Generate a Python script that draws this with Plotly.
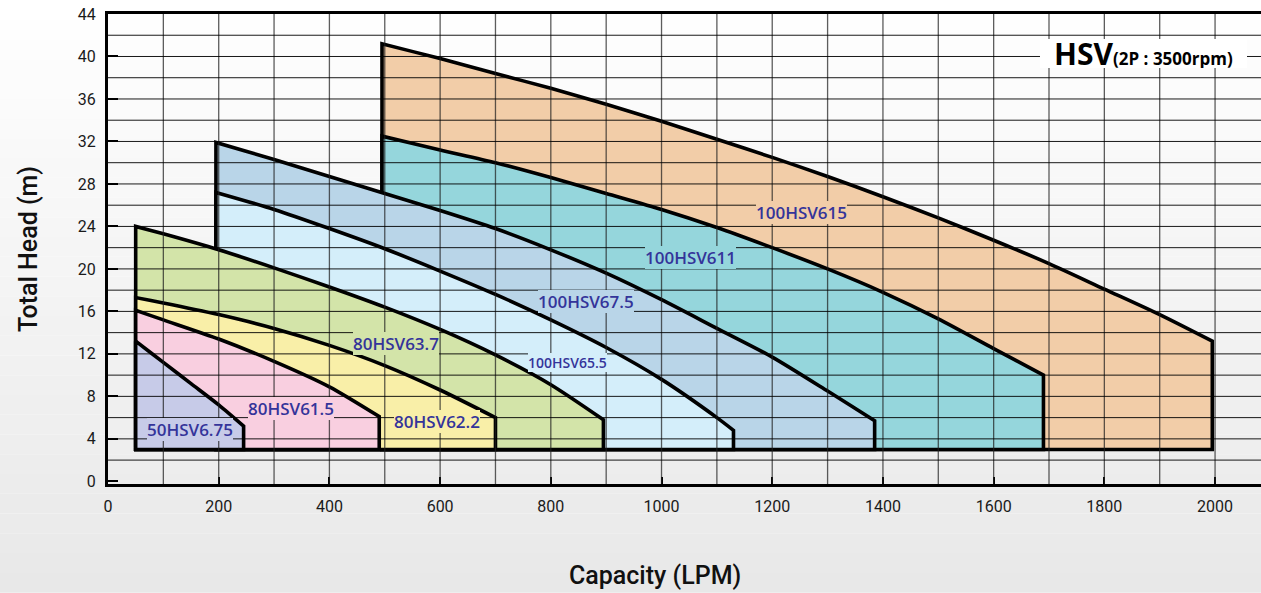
import numpy as np
import plotly.graph_objects as go

# ---------------- data ----------------
base_head = 3.0

models = ["100HSV615", "100HSV611", "100HSV67.5", "100HSV65.5",
          "80HSV63.7", "80HSV62.2", "80HSV61.5", "50HSV6.75"]

q_615 = [495, 600, 700, 800, 900, 1000, 1100, 1200, 1300, 1400, 1500, 1600, 1700, 1800, 1900, 1995]
h_615 = [41.2, 39.8, 38.4, 37.0, 35.5, 33.9, 32.2, 30.5, 28.7, 26.8, 24.8, 22.7, 20.5, 18.1, 15.7, 13.2]

q_611 = [495, 600, 700, 800, 900, 1000, 1100, 1200, 1300, 1400, 1500, 1600, 1690]
h_611 = [32.5, 31.2, 30.0, 28.6, 27.1, 25.6, 23.9, 22.0, 20.0, 17.8, 15.3, 12.5, 10.0]

q_675 = [195, 300, 400, 500, 600, 700, 800, 900, 1000, 1100, 1200, 1300, 1385]
h_675 = [31.9, 30.3, 28.7, 27.1, 25.5, 23.8, 21.8, 19.6, 17.1, 14.4, 11.7, 8.5, 5.7]

q_655 = [195, 300, 400, 500, 600, 700, 800, 900, 1000, 1100, 1130]
h_655 = [27.2, 25.6, 23.8, 21.9, 19.8, 17.6, 15.2, 12.6, 9.6, 6.0, 4.8]

q_637 = [50, 100, 200, 300, 400, 500, 600, 700, 800, 895]
h_637 = [24.0, 23.3, 21.8, 20.1, 18.3, 16.4, 14.3, 11.9, 9.1, 5.8]

q_622 = [50, 100, 200, 300, 400, 500, 600, 700]
h_622 = [17.3, 16.8, 15.7, 14.4, 12.8, 10.9, 8.6, 6.0]

q_615s = [50, 100, 200, 300, 400, 490]
h_615s = [16.1, 15.2, 13.4, 11.3, 8.9, 6.1]

q_6075 = [50, 100, 150, 200, 245]
h_6075 = [13.2, 11.2, 9.2, 7.2, 5.2]

curves_q = [q_615, q_611, q_675, q_655, q_637, q_622, q_615s, q_6075]
curves_h = [h_615, h_611, h_675, h_655, h_637, h_622, h_615s, h_6075]

x_ticks = [0, 200, 400, 600, 800, 1000, 1200, 1400, 1600, 1800, 2000]
y_ticks = [0, 4, 8, 12, 16, 20, 24, 28, 32, 36, 40, 44]

# ---------------- styles ----------------
fills = ["#f2cda8", "#95d6dc", "#b9d5e8", "#d4eefa",
         "#d3e4a9", "#f9efa8", "#f9cfe0", "#c7cbe8"]
label_xy = [(1253, 25.3), (1052, 21.06), (864, 16.96), (830, 11.15),
            (521, 13.0), (595, 5.64), (330, 6.9), (148, 4.86)]
label_size = [17, 17, 17, 14, 17, 17, 17, 17]
label_color = "#34349a"

x_range = [0, 2083]
y_range = [-0.25, 44]
grid_dx = 100
grid_dy = 2

fig = go.Figure()


def outline(q, h):
    # closed outline of one operating range; corner points are repeated so the
    # smoothed curve keeps sharp corners at the vertical edges
    xs = [q[0], q[0], q[0]] + list(q) + [q[-1], q[-1], q[-1], q[0]]
    ys = [base_head, base_head, h[0]] + list(h) + [h[-1], base_head, base_head, base_head]
    return xs, ys


for name, q, h, fc in zip(models, curves_q, curves_h, fills):
    xs, ys = outline(q, h)
    fig.add_trace(go.Scatter(
        x=xs, y=ys, mode="lines", fill="toself", fillcolor=fc,
        line=dict(color="black", width=3.6, shape="spline", smoothing=0.7, simplify=False),
        name=name, hoverinfo="name", showlegend=False))

# grid drawn above the filled regions, as in the reference
for xv in np.arange(grid_dx, x_range[1], grid_dx):
    fig.add_shape(type="line", xref="x", yref="y", x0=xv, x1=xv,
                  y0=y_range[0], y1=y_range[1], layer="above",
                  line=dict(color="rgba(30,30,30,0.72)", width=1.3))
for yv in np.arange(grid_dy, y_range[1], grid_dy):
    fig.add_shape(type="line", xref="x", yref="y", x0=x_range[0], x1=x_range[1],
                  y0=yv, y1=yv, layer="above",
                  line=dict(color="rgba(0,0,0,0.9)", width=1))

# soft vertical gradient background
n_bands = 30
top_px, bot_px = 14, 484.3
for i in range(n_bands):
    p0 = 593 * i / n_bands
    p1 = 593 * (i + 1) / n_bands
    g = int(round(255 - 23 * (i + 0.5) / n_bands))
    fig.add_shape(type="rect", xref="paper", yref="paper",
                  x0=-0.2, x1=1.1,
                  y0=(bot_px - p1) / (bot_px - top_px),
                  y1=(bot_px - p0) / (bot_px - top_px),
                  layer="below", line=dict(width=0),
                  fillcolor=f"rgb({g},{g},{g})")

# region labels
for name, (lx, ly), fc, fs in zip(models, label_xy, fills, label_size):
    fig.add_annotation(x=lx, y=ly, xref="x", yref="y", text=name,
                       showarrow=False, bgcolor=fc, borderpad=0, borderwidth=0,
                       font=dict(family="Open Sans", size=fs, color=label_color, weight=600))

# chart title box
fig.add_annotation(
    xref="paper", yref="paper", x=0.988, y=0.916, xanchor="right", yanchor="middle",
    text="<b>HSV</b><span style='font-size:17px;font-weight:bold'>(2P : 3500rpm)</span>",
    showarrow=False, bgcolor="white", borderwidth=0, borderpad=0,
    width=207, height=29,
    font=dict(family="Open Sans", size=30, color="black"))

# x axis title (placed where the reference has it)
fig.add_annotation(
    xref="paper", yref="paper", x=(655 - 108) / 1153, y=(484.3 - 576) / 470.3,
    xanchor="center", yanchor="middle", showarrow=False, text="Capacity (LPM)",
    font=dict(family="Roboto", size=25, color="#111111", weight=500))

fig.update_layout(
    width=1261, height=593,
    margin=dict(l=108, r=0, t=14, b=109, autoexpand=False),
    paper_bgcolor="white", plot_bgcolor="rgba(0,0,0,0)",
    showlegend=False,
    xaxis=dict(range=x_range, tickvals=x_ticks, ticks="inside", ticklen=7,
               tickwidth=2, tickcolor="black", showgrid=False, zeroline=False,
               showline=True, linewidth=3, linecolor="black", mirror=True,
               ticklabelstandoff=6,
               tickfont=dict(family="Roboto", size=16, color="#1a1a1a")),
    yaxis=dict(range=y_range, tickvals=y_ticks, ticks="inside", ticklen=10,
               tickwidth=2, tickcolor="black", showgrid=False, zeroline=False,
               showline=True, linewidth=3, linecolor="black",
               ticklabelstandoff=6,
               tickfont=dict(family="Roboto", size=16, color="#1a1a1a"),
               title=dict(text="Total Head (m)", standoff=34,
                          font=dict(family="Roboto", size=25, color="#111111", weight=500))),
)

fig.write_html("out.html", config={"displayModeBar": False},
               post_script="document.body.style.margin='0';")
